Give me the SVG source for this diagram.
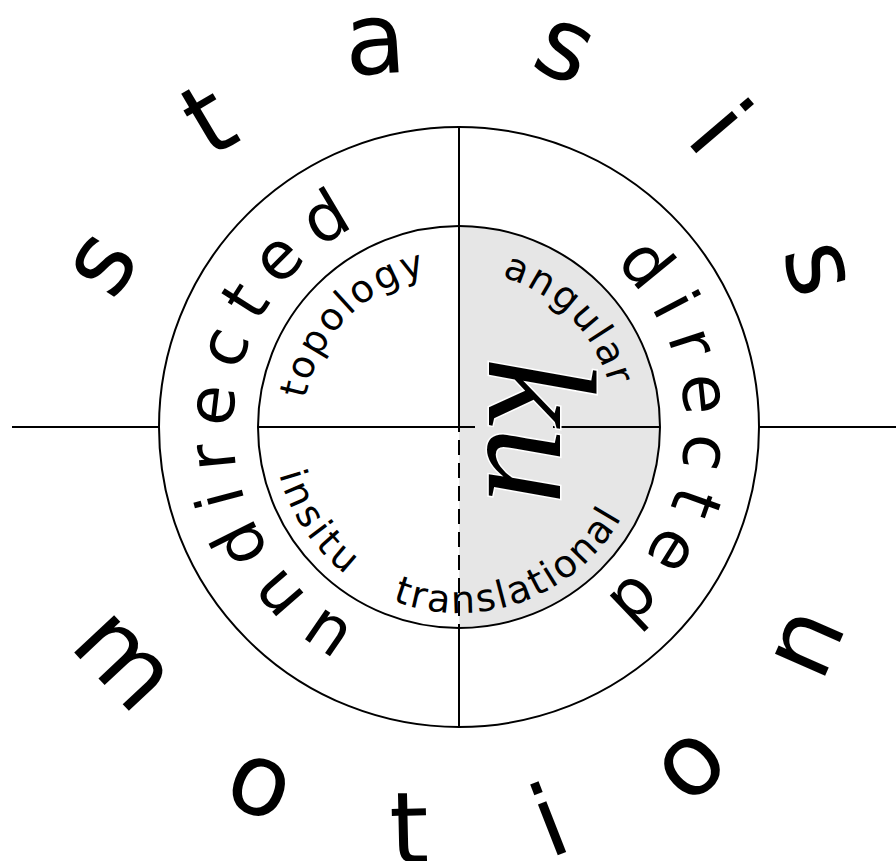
<svg xmlns="http://www.w3.org/2000/svg" width="896" height="861" viewBox="0 0 896 861">
<style>
.ln{stroke:#000;stroke-width:2;fill:none}
.dash{stroke:#000;stroke-width:2;fill:none;stroke-dasharray:15 8;stroke-dashoffset:10}
.big{font-family:"DejaVu Sans",sans-serif;font-size:100px;letter-spacing:118px;fill:#000}
.ring{font-family:"DejaVu Sans",sans-serif;font-size:66px;letter-spacing:15.5px;fill:#000}
.small{font-family:"DejaVu Sans",sans-serif;font-size:38px;fill:#000}
.ku{font-family:"Liberation Serif","Times New Roman",serif;font-style:italic;font-size:155px;fill:#000;stroke:#fff;stroke-width:3;paint-order:stroke}
</style>
<defs>
<path id="pStasis" d="M101,427 A358,358 0 0 1 817,427 A358,358 0 0 1 101,427"/>
<path id="pMotion" d="M24,427 A435,435 0 0 0 894,427"/>
<path id="pRingL" d="M459,653 A226,226 0 0 1 459,201 A226,226 0 0 1 459,653"/>
<path id="pRingR" d="M459,201 A226,226 0 0 1 459,653 A226,226 0 0 1 459,201"/>
<path id="pInnerL" d="M459,583 A156,156 0 0 1 459,271 A156,156 0 0 1 459,583"/>
<path id="pInnerR" d="M459,271 A156,156 0 0 1 459,583 A156,156 0 0 1 459,271"/>
<path id="pInnerB" d="M273,427 A186,186 0 0 0 645,427"/>
</defs>
<rect width="896" height="861" fill="#fff"/>
<g id="gray-half">
<path d="M459,226 A201,201 0 0 1 459,628 Z" fill="#e6e6e6"/>
</g>
<g id="outer-circle"><circle cx="459" cy="427" r="300" class="ln"/></g>
<g id="inner-circle"><circle cx="459" cy="427" r="201" class="ln"/></g>
<g id="connectors">
<line x1="12" y1="427" x2="159" y2="427" class="ln"/>
<line x1="759" y1="427" x2="896" y2="427" class="ln"/>
<line x1="258" y1="427" x2="475" y2="427" class="ln"/>
<line x1="553" y1="427" x2="660" y2="427" class="ln"/>
<line x1="459" y1="127" x2="459" y2="427" class="ln"/>
<line x1="459" y1="427" x2="459" y2="628" class="dash"/>
<line x1="459" y1="628" x2="459" y2="727" class="ln"/>
</g>
<g id="stasis"><text class="big"><textPath href="#pStasis" startOffset="122">stasis</textPath></text></g>
<g id="motion"><text class="big"><textPath href="#pMotion" startOffset="220">motion</textPath></text></g>
<g id="undirected"><text class="ring"><textPath href="#pRingL" startOffset="107">undirected</textPath></text></g>
<g id="directed"><text class="ring"><textPath href="#pRingR" startOffset="171">directed</textPath></text></g>
<g id="topology"><text class="small" letter-spacing="2.5"><textPath href="#pInnerL" startOffset="273">topology</textPath></text></g>
<g id="angular"><text class="small" letter-spacing="2.5"><textPath href="#pInnerR" startOffset="43">angular</textPath></text></g>
<g id="insitu"><text class="small" letter-spacing="3.7"><textPath href="#pInnerB" startOffset="47.6">insitu</textPath></text></g>
<g id="translational"><text class="small" letter-spacing="2.3"><textPath href="#pInnerB" startOffset="223.7">translational</textPath></text></g>
<g id="ku"><text class="ku" transform="translate(489,431) rotate(90)" text-anchor="middle">ku</text></g>
</svg>
